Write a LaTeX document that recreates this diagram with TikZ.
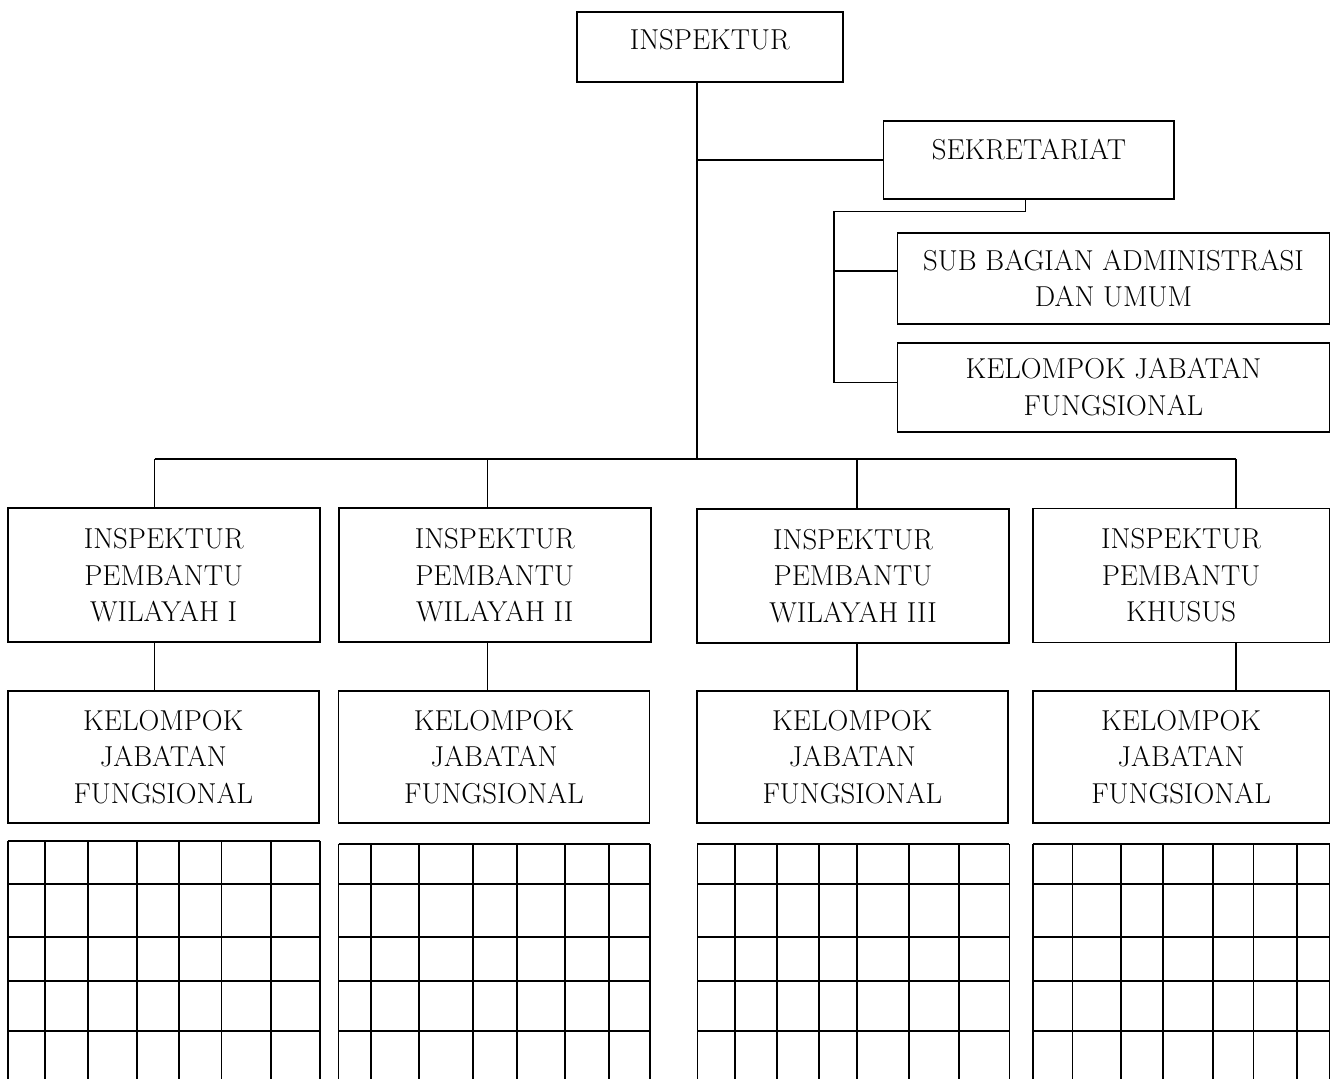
\documentclass[tikz,border=0pt]{standalone}
\usepackage{fontspec}
\usetikzlibrary{positioning,calc}

\tikzset{
  kotak/.style={draw, line width=1.3pt, align=center, inner sep=0pt,
    font=\fontsize{21.6}{27.4}\selectfont},
  garis/.style={line width=1.1pt},
  garistabel/.style={line width=1.3pt}
}

\begin{document}
\begin{tikzpicture}[x=0.75pt,y=-0.75pt]
  % Page size of the chart
  \path[use as bounding box, clip] (0,0) rectangle (1331,1078);

  % Define the open table below each column
  \newcommand{\gridtabel}[4]{%
    \foreach \yy in {#1,884.3,936.7,981,1031} \draw[garistabel] (#2,\yy) -- (#3,\yy);
    \foreach \xx in {#2,#4,#3} \draw[garistabel] (\xx,#1) -- (\xx,1090);
  }

  % Top level
  \node[kotak, minimum width=199.5pt, text height=28pt, text depth=25pt] (insp) at (709.7,47) {INSPEKTUR};
  \node[kotak, minimum width=218pt, text height=28.7pt, text depth=30pt] (sek) at (1028.9,159.9) {SEKRETARIAT};
  \node[kotak, minimum width=324pt, minimum height=68.5pt] (sub) at (1113.5,278.4) {SUB BAGIAN ADMINISTRASI\\DAN UMUM};
  \node[kotak, minimum width=324pt, minimum height=66.75pt] (kjfs) at (1113.5,387.2) {KELOMPOK JABATAN\\FUNGSIONAL};

  % Inspektur pembantu
  \node[kotak, minimum width=234pt, minimum height=100.5pt] (ip1) at (163.7,575.3) {INSPEKTUR\\PEMBANTU\\WILAYAH I};
  \node[kotak, minimum width=234pt, minimum height=100.5pt] (ip2) at (494.7,575.3) {INSPEKTUR\\PEMBANTU\\WILAYAH II};
  \node[kotak, minimum width=234pt, minimum height=100.5pt] (ip3) at (853,575.8) {INSPEKTUR\\PEMBANTU\\WILAYAH III};
  \node[kotak, minimum width=222.7pt, minimum height=100.5pt] (ip4) at (1181.1,575.5) {INSPEKTUR\\PEMBANTU\\KHUSUS};

  % Kelompok jabatan fungsional
  \node[kotak, minimum width=233.3pt, minimum height=98.8pt] (kjf1) at (163.3,756.8) {KELOMPOK\\JABATAN\\FUNGSIONAL};
  \node[kotak, minimum width=233.3pt, minimum height=98.8pt] (kjf2) at (494,756.8) {KELOMPOK\\JABATAN\\FUNGSIONAL};
  \node[kotak, minimum width=233.3pt, minimum height=98.8pt] (kjf3) at (852.3,756.8) {KELOMPOK\\JABATAN\\FUNGSIONAL};
  \node[kotak, minimum width=222.7pt, minimum height=98.8pt] (kjf4) at (1181.1,756.8) {KELOMPOK\\JABATAN\\FUNGSIONAL};

  % Lines
  \coordinate (trunk) at (697,459);
  \coordinate (sk) at (1025.5,211.5);
  \coordinate (sl) at (833.9,211.5);
  \coordinate (b1) at (833.9,271);
  \coordinate (b2) at (833.9,382.7);
  \draw[garis] (insp.south -| trunk) -- (trunk);
  \draw[garis] (sek.west -| trunk) -- (sek.west);
  \draw[garis] (sek.south -| sk) -- (sk) -- (sl) -- (b2) -- (b2 -| kjfs.west);
  \draw[garis] (b1) -- (b1 -| sub.west);

  \coordinate (d1) at (154.7,459);
  \coordinate (d2) at (487.6,459);
  \coordinate (d3) at (856.8,459);
  \coordinate (d4) at (1236,459);
  \draw[garis] (d1) -- (d4);
  \foreach \i in {1,...,4}
    \draw[garis] (d\i) -- (d\i |- ip\i.north) (ip\i.south -| d\i) -- (kjf\i.north -| d\i);

  % Tables
  \gridtabel{841}{7.7}{319.7}{44.9,88,136.8,179,221.4,271}
  \gridtabel{844}{338.5}{650}{370.9,418.8,473.1,517.1,565,609}
  \gridtabel{844}{697.4}{1009.4}{734.9,776.7,818.8,856.8,909,959.2}
  \gridtabel{844}{1033}{1329.5}{1072.6,1120.7,1162.8,1213,1253.5,1297.3}
\end{tikzpicture}
\end{document}
